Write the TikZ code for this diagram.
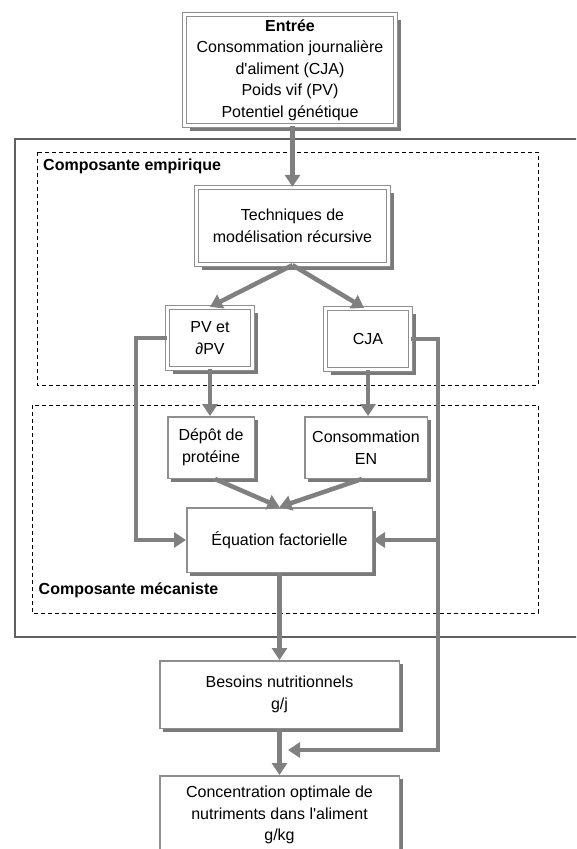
\documentclass[tikz,border=0pt]{standalone}
\usepackage{fontspec}
\setmainfont{Liberation Sans}
\usetikzlibrary{arrows.meta,shadows}
\definecolor{linegray}{HTML}{808080}
\definecolor{boxgray}{HTML}{8E8E8E}
\definecolor{shadegray}{HTML}{7A7A7A}
\definecolor{framegray}{HTML}{606060}
\begin{document}
\begin{tikzpicture}[x=1pt,y=-1pt,
  txt/.style={font=\fontsize{16}{21.5}\selectfont, align=center, inner sep=0pt},
  lbl/.style={font=\fontsize{16}{20}\selectfont\bfseries, inner sep=0pt, anchor=west},
  dblbox/.style={txt, draw=boxgray, line width=1.3pt, double=white, double distance=2.5pt, fill=white,
    drop shadow={shadow xshift=5pt, shadow yshift=-5pt, fill=shadegray, opacity=1}},
  simplebox/.style={txt, draw=boxgray, line width=1.5pt, fill=white,
    drop shadow={shadow xshift=3.5pt, shadow yshift=-3.5pt, fill=shadegray, opacity=1}},
  conn/.style={draw=linegray, line width=4.5pt, -{Triangle[length=12pt,width=15pt]}},
  connline/.style={draw=linegray, line width=4.5pt},
  zone/.style={draw=black, line width=0.8pt, dash pattern=on 4pt off 3pt}
]
\useasboundingbox (0,0) rectangle (576,849);
\clip (0,0) rectangle (576,849);

% frames
\draw[framegray, line width=1.5pt] (15,139) rectangle (600,637);
\draw[zone] (37,152) rectangle (538,385);
\draw[zone] (32,405) rectangle (538,613);
\node[lbl] (lemp) at (43,166) {Composante empirique};
\node[lbl] (lmec) at (38.5,590) {Composante mécaniste};

% nodes
\node[dblbox, minimum width=211pt, minimum height=111pt] (entree) at (290,70)
  {\textbf{Entrée}\\Consommation journalière\\d\textquotesingle aliment (CJA)\\Poids vif (PV)\\Potentiel génétique};
\node[dblbox, minimum width=192pt, minimum height=77pt] (tech) at (292.5,226)
  {Techniques de\\modélisation récursive};
\node[dblbox, minimum width=85pt, minimum height=61pt] (pv) at (210,338) {PV et\\∂PV};
\node[dblbox, minimum width=85pt, minimum height=61pt] (cja) at (368,339) {CJA};
\node[simplebox, minimum width=86.5pt, minimum height=61.5pt] (depot) at (211,447.5) {Dépôt de\\protéine};
\node[simplebox, minimum width=122.5pt, minimum height=61.5pt] (conso) at (366,447.5) {Consommation\\EN};
\node[simplebox, minimum width=185.5pt, minimum height=64.5pt] (eq) at (279.5,540) {Équation factorielle};
\node[simplebox, minimum width=239.5pt, minimum height=67.5pt] (besoins) at (279.5,694.5) {Besoins nutritionnels\\g/j};
\node[simplebox, minimum width=239.5pt, minimum height=78.5pt] (conc) at (279.5,815)
  {Concentration optimale de\\nutriments dans l\textquotesingle aliment\\g/kg};

% helper coordinates
\coordinate (ljoin) at (136,540);
\coordinate (rmid) at (438,540);
\coordinate (rbot) at (438,750);
\coordinate (tipb) at (288,750);

% connectors
\draw[conn] (entree.south -| tech.north) -- (tech.north);
\draw[conn] (tech.south) -- (pv.north);
\draw[conn] (tech.south) -- ([xshift=-4pt]cja.north);
\draw[conn] (pv.south) -- (pv.south |- depot.north);
\draw[conn] (cja.south) -- (cja.south |- conso.north);
\draw[conn] ([xshift=4pt]depot.south) -- (eq.north);
\draw[conn] ([xshift=-4pt]conso.south) -- (eq.north);
\draw[conn] (pv.west) -| (ljoin) -- (eq.west);
\draw[conn] (cja.east) -| (rbot) -- (tipb);
\draw[conn] (rmid) -- (eq.east);
\draw[conn] (eq.south) -- (besoins.north);
\draw[conn] (besoins.south) -- (conc.north);
\end{tikzpicture}
\end{document}
